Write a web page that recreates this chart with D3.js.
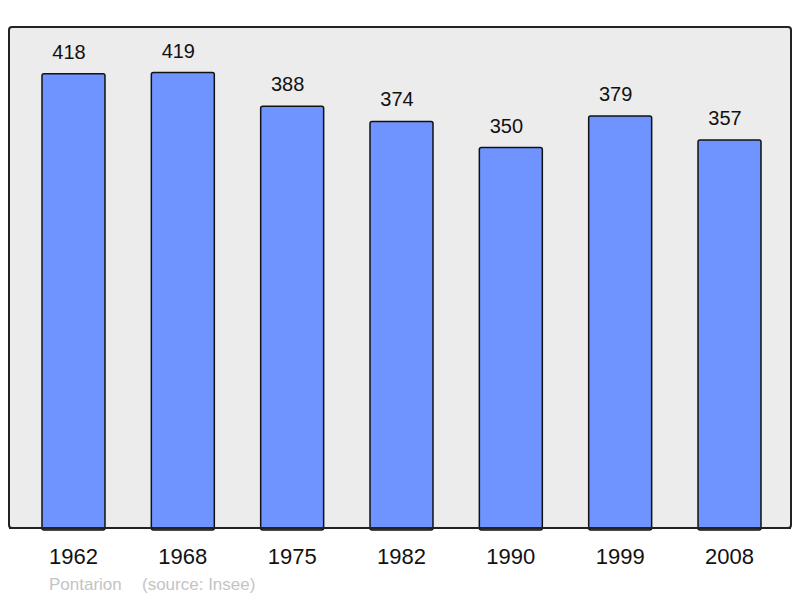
<!DOCTYPE html>
<html><head><meta charset="utf-8">
<script src="https://cdn.jsdelivr.net/npm/d3@7"></script>
<style>body{margin:0;background:#fff}svg{display:block}</style>
</head><body>
<script>
const years = ["1962","1968","1975","1982","1990","1999","2008"];
const population = [418,419,388,374,350,379,357];
const townName = "Pontarion";
const sourceText = "(source: Insee)";

const W = 800, H = 598;
const svg = d3.select("body").append("svg").attr("width", W).attr("height", H);
const panel = {x: 9, y: 27, w: 782, h: 501};
const font = "Liberation Sans, Arial, sans-serif";

svg.append("rect").attr("x", panel.x).attr("y", panel.y).attr("width", panel.w).attr("height", panel.h)
  .attr("rx", 3).attr("fill", "#ececec").attr("stroke", "#222").attr("stroke-width", 2);

const x = d3.scaleBand().domain(years).range([42, 761]).paddingInner(0.424).paddingOuter(0);
const y = d3.scaleLinear().domain([0, d3.max(population) * 1.1]).range([panel.y + panel.h, panel.y]);

const data = years.map((yr, i) => ({yr, v: population[i]}));

svg.selectAll("rect.bar").data(data).enter().append("rect").attr("class", "bar")
  .attr("x", d => x(d.yr)).attr("y", d => y(d.v))
  .attr("width", x.bandwidth()).attr("height", d => y(0) - y(d.v) + 2)
  .attr("rx", 2).attr("fill", "#7094ff").attr("stroke", "#111").attr("stroke-width", 1.5);

svg.append("line").attr("x1", panel.x).attr("x2", panel.x + panel.w)
  .attr("y1", panel.y + panel.h).attr("y2", panel.y + panel.h).attr("stroke", "#222").attr("stroke-width", 2);

svg.selectAll("text.val").data(data).enter().append("text").attr("class", "val")
  .attr("x", d => x(d.yr) + x.bandwidth() / 2 - 4.5).attr("y", d => y(d.v) - 15)
  .attr("text-anchor", "middle").attr("font-family", font)
  .attr("font-size", 20).attr("fill", "#111").text(d => d.v);

const xAxis = d3.axisBottom(x).tickSize(0).tickPadding(0);
const gx = svg.append("g").attr("transform", `translate(0,${panel.y + panel.h})`).call(xAxis);
gx.select(".domain").remove();
gx.selectAll("text").attr("y", 36).attr("dy", 0).attr("font-family", font)
  .attr("font-size", 22).attr("fill", "#111");

svg.append("text").attr("x", 49).attr("y", 590).attr("font-family", font)
  .attr("font-size", 17).attr("fill", "#c4c4c4").text(townName);
svg.append("text").attr("x", 142).attr("y", 590).attr("font-family", font)
  .attr("font-size", 17).attr("fill", "#c4c4c4").text(sourceText);
</script>
</body></html>
